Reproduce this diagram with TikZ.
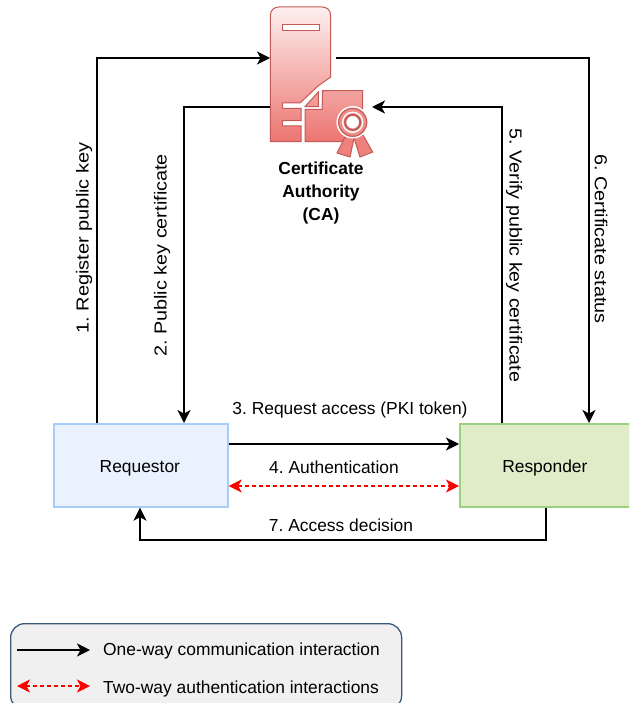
\documentclass[tikz,border=0pt]{standalone}
\usepackage{fontspec}
\setmainfont{Liberation Sans}
\usetikzlibrary{arrows.meta,calc}
\definecolor{icontop}{HTML}{FDF0EF}
\definecolor{iconbot}{HTML}{EC7470}
\definecolor{iconline}{HTML}{C45A56}
\definecolor{reqfill}{HTML}{EAF2FF}
\definecolor{reqline}{HTML}{A9CDFA}
\definecolor{respfill}{HTML}{E0EBC8}
\definecolor{respline}{HTML}{9BD07F}
\definecolor{legline}{HTML}{3B5A78}
\definecolor{legfill}{HTML}{F0F0F0}
\colorlet{certtop}{iconbot!61!icontop}
\tikzset{
  x=1pt,y=-1pt,
  every node/.style={font=\fontsize{17.4}{20}\selectfont,text=black,inner sep=0pt},
  arr/.style={line width=1.4pt,draw=black,-{Stealth[length=13pt,width=13pt,inset=3.5pt]}},
  twoarr/.style={line width=1.2pt,draw=red,dash pattern=on 4pt off 3pt,{Stealth[length=13pt,width=13pt,inset=3.5pt]}-{Stealth[length=13pt,width=13pt,inset=3.5pt]}},
  boxnode/.style={line width=1.7pt,minimum height=83pt},
  iconline/.style={draw=iconline,line width=1pt},
}
\newcommand{\longtext}[2]{\scalebox{#1}[1]{#2}}
\frenchspacing
\begin{document}
\begin{tikzpicture}
\useasboundingbox (0,0) rectangle (629,703);
\clip (0,0) rectangle (629,703);
% Legend
\node[draw=legline,fill=legfill,rounded corners=14pt,line width=1.3pt,minimum width=391pt,minimum height=86pt,anchor=north west] (legend) at (10,623) {};
\coordinate (l1a) at ($(legend.north west)+(7,27)$);
\coordinate (l1b) at ($(legend.north west)+(80,27)$);
\coordinate (l2a) at ($(legend.north west)+(7,63)$);
\coordinate (l2b) at ($(legend.north west)+(80,63)$);
\draw[arr] (l1a) -- (l1b);
\draw[twoarr] (l2a) -- (l2b);
\node[anchor=west] (t1) at (103,650.5) {One-way communication interaction};
\node[anchor=west] (t2) at (103,688.5) {Two-way authentication interactions};
% Boxes
\node[boxnode,draw=reqline,fill=reqfill,minimum width=174pt,anchor=north west] (req) at (53,423) {\raisebox{-7pt}[0pt][0pt]{\hspace*{-2pt}Requestor}};
\node[boxnode,draw=respline,fill=respfill,minimum width=170pt,anchor=north west] (resp) at (459,423) {\raisebox{-7pt}[0pt][0pt]{Responder}};
% CA icon
\node[minimum width=61pt,minimum height=135pt,anchor=north west] (ca) at (270,7) {};
\path[iconline,top color=icontop,bottom color=iconbot]
  (270.3,141.7) -- (270.3,16) .. controls (270.3,10) and (274,7) .. (279,7) -- (322,7) .. controls (327,7) and (330.7,10) .. (330.7,16) -- (330.7,77)
  -- (318,86) -- (300,103) -- (282.3,103) -- (282.3,108.3) -- (301,108.3) -- (301,120.7) -- (282.3,120.7) -- (282.3,126) -- (301,126) -- (301,141.7) -- cycle;
\path[draw=iconline,line width=1pt,fill=white] (282.3,24.5) rectangle (319,30.5);
\path[iconline,top color=certtop,bottom color=iconbot]
  (305,141.7) -- (305,109.3) -- (322,109.3) -- (322.7,90.7) -- (362.7,90.7) -- (362.7,120) -- (342,141.7) -- cycle;
\path[iconline,top color=certtop,bottom color=certtop!70!iconbot]
  (305,106.7) -- (318.3,92) -- (318.3,106.7) -- cycle;
\path[iconline,fill=iconbot!90!icontop] (345,137) -- (337,153) -- (350,157) -- (354,138) -- cycle;
\path[iconline,fill=iconbot!90!icontop] (354,138) -- (360,157) -- (372.7,152) -- (363,135) -- cycle;
\path[draw=white,line width=1.5pt,fill=iconbot!80!icontop] (352.7,122.3) circle[radius=15.5];
\path[draw=iconline,line width=1pt,fill=none] (352.7,122.3) circle[radius=14];
\path[draw=white,line width=1.4pt,fill=none] (352.7,122.3) circle[radius=10];
\path[draw=iconline,line width=2pt,fill=white] (352.7,122.3) circle[radius=7.5];
\node[font=\fontsize{17.4}{23}\selectfont\bfseries,align=center] (catext) at (321,193.5) {Certificate\\Authority\\(CA)};
% Connectors
\coordinate (c1) at (97,58);
\coordinate (c2) at (184,107);
\coordinate (c5) at (502,107);
\coordinate (c6) at (589,58);
\coordinate (c5end) at (372,107);
\coordinate (c6start) at (336,58);
\draw[arr] (c1 |- req.north) -- (c1) -- (c1 -| ca.west);
\draw[arr] (c2 -| ca.west) -- (c2) -- (c2 |- req.north);
\draw[arr] (c5 |- resp.north) -- (c5) -- (c5end);
\draw[arr] (c6start) -- (c6) -- (c6 |- resp.north);
\coordinate (h3) at (0,444);
\coordinate (h4) at (0,486);
\draw[arr] (req.east |- h3) -- (resp.west |- h3);
\draw[twoarr] (req.east |- h4) -- (resp.west |- h4);
\coordinate (c7a) at (546,540);
\coordinate (c7b) at (140,540);
\draw[arr] (c7a |- resp.south) -- (c7a) -- (c7b) -- (c7b |- req.south);
% Labels
\node[rotate=90] (n1) at (84,238) {\longtext{1.15}{1. Register public key}};
\node[rotate=90] (n2) at (162,255.5) {\longtext{1.14}{2. Public key certificate}};
\node (n3) at (350,409.5) {3. Request access (PKI token)};
\node (n4) at (334,467.5) {4. Authentication};
\node[rotate=-90] (n5) at (514,255.5) {\longtext{1.13}{5. Verify public key certificate}};
\node[rotate=-90] (n6) at (601,239) {\longtext{1.14}{6. Certificate status}};
\node (n7) at (341,525.5) {7. Access decision};
\end{tikzpicture}
\end{document}
